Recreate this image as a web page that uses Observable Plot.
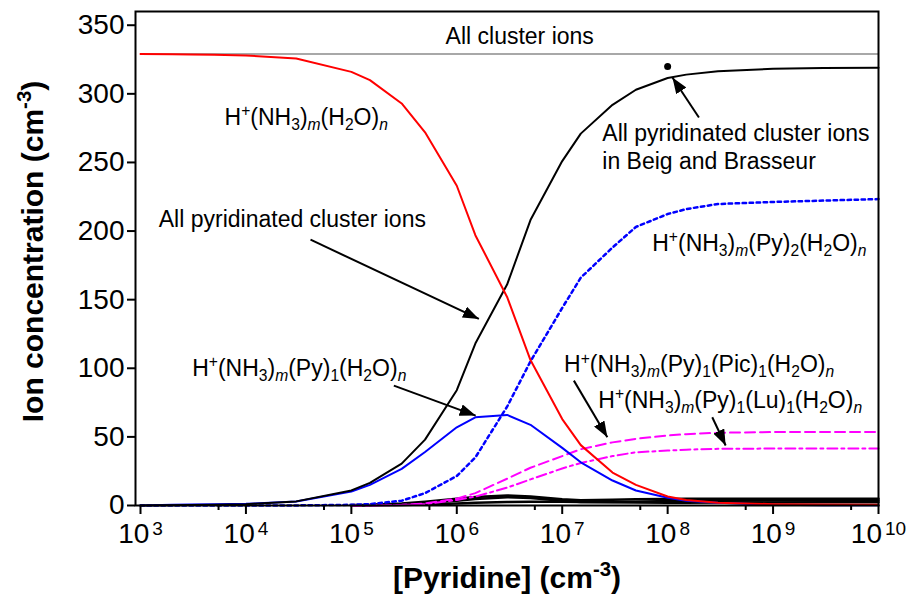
<!DOCTYPE html>
<html><head><meta charset="utf-8">
<script src="https://cdn.jsdelivr.net/npm/d3@7"></script>
<script src="https://cdn.jsdelivr.net/npm/@observablehq/plot@0.6"></script>
<style>html,body{margin:0;padding:0;background:#fff;} #chart{width:916px;height:602px;}</style>
</head><body><div id="chart"></div>
<script>
// ---- data ----
const pyridine = [1e3, 2e3, 3e3, 5e3, 1e4, 3e4, 1e5, 1.5e5, 3e5, 5e5, 1e6, 1.5e6, 3e6, 5e6, 1e7, 1.5e7, 3e7, 5e7, 1e8, 1.5e8, 3e8, 1e9, 3e9, 1e10];
const waterClusters  = [329, 328.8, 328.6, 328.4, 328, 325.7, 316, 310, 293, 272, 233, 197, 152, 106, 63, 44, 24, 15, 6.6, 4, 2, 1, 0.8, 0.5];
const allPyridinated = [0, 0.2, 0.3, 0.6, 1, 3, 11, 16.5, 30.5, 48, 84, 118, 161, 208, 251, 271, 292, 303, 311.5, 314, 316.5, 318.3, 318.8, 319];
const py1   = [0, 0.5, 0.7, 1, 1.2, 2.9, 10.2, 15, 26.7, 39, 57, 64.3, 66, 58.8, 42, 31.5, 18.2, 10.9, 5.6, 3.5, 2, 0.5, 0.2, 0.1];
const py2   = [0, 0, 0, 0, 0, 0.05, 0.5, 1, 3.5, 9, 21.5, 35, 72, 105, 144, 166, 188, 203, 212.4, 216, 219.7, 221.2, 222.2, 223.3];
const py1pic = [null, null, null, null, null, null, 0, 0.1, 0.5, 1.5, 5, 9, 19.5, 27.5, 36, 41, 46, 48.6, 51, 52, 53, 53.5, 53.5, 53.5];
const py1lu  = [null, null, null, null, null, null, 0, 0.05, 0.3, 1, 4, 6.5, 13, 19, 27, 31, 36, 38.8, 40, 40.7, 41.3, 41.5, 41.5, 41.5];
const minorA = [null, null, null, null, null, null, 0.3, 0.5, 1.5, 2.8, 5, 6.2, 7.3, 6.5, 4.5, 3.8, 4.2, 4.5, 4.8, 4.9, 5, 5, 5, 5];
const minorB = [null, null, null, null, null, null, 0.2, 0.3, 1, 2, 3.5, 4.8, 6, 5.5, 3.5, 2.6, 2.5, 2.8, 3.2, 3.4, 3.5, 3.6, 3.7, 3.7];
const minorC = [null, null, null, null, null, null, 0, 0.1, 0.3, 0.7, 1.5, 2, 2.5, 2.7, 2.8, 2.6, 2.3, 2.1, 2, 2, 2.1, 2.2, 2.3, 2.3];
const allClusterIons = 329;
const beigX = [1e8];
const beigY = [320];

// annotations
const labelText = [
  "All cluster ions",
  "H^{+}(NH_{3})_{m}(H_{2}O)_{n}",
  "All pyridinated cluster ions",
  "All pyridinated cluster ions\nin Beig and Brasseur",
  "H^{+}(NH_{3})_{m}(Py)_{2}(H_{2}O)_{n}",
  "H^{+}(NH_{3})_{m}(Py)_{1}(H_{2}O)_{n}",
  "H^{+}(NH_{3})_{m}(Py)_{1}(Pic)_{1}(H_{2}O)_{n}",
  "H^{+}(NH_{3})_{m}(Py)_{1}(Lu)_{1}(H_{2}O)_{n}"
];
const labelX = [7.83e5, 6.27e3, 1.49e3, 2.4e7, 7.14e7, 3.09e3, 1.04e7, 2.2e7];
const labelY = [336.2, 277.4, 202.6, 245.2, 185.7, 94.7, 97.1, 71.1];
const arrowX1 = [4.1e4, 2.53e5, 1.98e8, 1.29e7, 2.65e8];
const arrowY1 = [193.7, 87.4, 282.7, 91, 64.3];
const arrowX2 = [1.62e6, 1.51e6, 1.11e8, 2.68e7, 3.55e8];
const arrowY2 = [136, 65.5, 311.9, 49.7, 43.7];

const yTicks = [0, 50, 100, 150, 200, 250, 300, 350];
const xMajor = [1e3, 1e4, 1e5, 1e6, 1e7, 1e8, 1e9, 1e10];
const xMinor = [5.5e3, 5.5e4, 5.5e5, 5.5e6, 5.5e7, 5.5e8, 5.5e9];
const xTitle = "[Pyridine] (cm^{-3})";
const yTitle = "Ion concentration (cm^{-3})";

// ---- build tables ----
const toSeries = vals => pyridine.map((x, i) => ({x, y: vals[i]})).filter(d => d.y != null);
const labels = labelText.map((t, i) => ({t, x: labelX[i], y: labelY[i]}));
const arrows = arrowX1.map((x1, i) => ({x1, y1: arrowY1[i], x2: arrowX2[i], y2: arrowY2[i]}));
const beig = beigX.map((x, i) => ({x, y: beigY[i]}));

const chart = Plot.plot({
  width: 916, height: 602,
  marginLeft: 135, marginRight: 38, marginTop: 11, marginBottom: 97,
  style: {fontFamily: "'Liberation Sans', Arial, sans-serif", fontSize: "23px", background: "white", color: "black"},
  x: {type: "log", domain: [Math.pow(10, 3 - 5 / 105.4), 1e10], label: null},
  y: {domain: [0, 360], label: null},
  marks: [
    Plot.ruleY([allClusterIons], {x1: 1e3, x2: 1e10, stroke: "#a8a8a8", strokeWidth: 2}),
    Plot.line(toSeries(minorC), {x: "x", y: "y", stroke: "black", strokeWidth: 2.5}),
    Plot.line(toSeries(minorB), {x: "x", y: "y", stroke: "black", strokeWidth: 2.5}),
    Plot.line(toSeries(minorA), {x: "x", y: "y", stroke: "black", strokeWidth: 2.5}),
    Plot.line(toSeries(py1pic), {x: "x", y: "y", stroke: "#ff00ff", strokeWidth: 2, strokeDasharray: "10,5"}),
    Plot.line(toSeries(py1lu), {x: "x", y: "y", stroke: "#ff00ff", strokeWidth: 2, strokeDasharray: "10,4,3,4"}),
    Plot.line(toSeries(py2), {x: "x", y: "y", stroke: "#0000ff", strokeWidth: 2.5, strokeDasharray: "3.5,3.5"}),
    Plot.line(toSeries(py1), {x: "x", y: "y", stroke: "#0000ff", strokeWidth: 2}),
    Plot.line(toSeries(allPyridinated), {x: "x", y: "y", stroke: "black", strokeWidth: 2}),
    Plot.line(toSeries(waterClusters), {x: "x", y: "y", stroke: "#ff0000", strokeWidth: 2}),
    Plot.dot(beig, {x: "x", y: "y", r: 3.5, fill: "black", stroke: "none"}),
    Plot.link(arrows, {x1: "x1", y1: "y1", x2: "x2", y2: "y2", stroke: "black", strokeWidth: 2}),
    Plot.text(labels, {x: "x", y: "y", text: "t", textAnchor: "start", lineAnchor: "bottom", fontSize: 23, lineHeight: 1.23, fill: "black"}),
    Plot.frame({stroke: "black", strokeWidth: 2}),
    Plot.axisY(yTicks, {tickSize: 8, tickPadding: 3, fontSize: 28, label: null, strokeWidth: 2}),
    Plot.axisX(xMajor, {tickSize: 9, tickPadding: 9, fontSize: 28, label: null, strokeWidth: 2,
      tickFormat: d => "10^{" + Math.round(Math.log10(d)) + "}"}),
    Plot.axisX(xMinor, {tickSize: 5, label: null, strokeWidth: 2, tickFormat: () => ""}),
    Plot.text([yTitle], {text: d => d, frameAnchor: "left", rotate: -90, dx: -93, dy: -7, fontSize: 30, fontWeight: "bold", lineAnchor: "bottom", textAnchor: "middle"}),
    Plot.text([xTitle], {text: d => d, frameAnchor: "bottom", dy: 82, fontSize: 30, fontWeight: "bold", lineAnchor: "bottom", textAnchor: "middle"})
  ]
});

document.getElementById("chart").append(chart);

// ---- rich text: ^{sup} and _{sub} into tspans ----
function rich(el, rise, dropSub, supDx) {
  if (el.querySelector("tspan")) return;
  const s = el.textContent;
  if (!/[\^_]\{/.test(s)) return;
  const fs = parseFloat(getComputedStyle(el).fontSize);
  el.textContent = "";
  const re = /([\^_])\{([^}]*)\}|([^\^_]+)/g;
  let cur = 0, m;
  while ((m = re.exec(s))) {
    const t = document.createElementNS("http://www.w3.org/2000/svg", "tspan");
    let target = 0, small = false, txt = m[3];
    if (m[1] === "^") { target = -rise * fs; small = true; txt = m[2]; if (supDx) t.setAttribute("dx", supDx); }
    else if (m[1] === "_") { target = dropSub * fs; small = true; txt = m[2]; if (/^[a-z]$/.test(txt)) t.setAttribute("font-style", "italic"); }
    if (target !== cur) t.setAttribute("dy", (target - cur).toFixed(2));
    cur = target;
    if (small) t.setAttribute("font-size", (fs * 0.68).toFixed(2));
    t.textContent = txt;
    el.appendChild(t);
  }
}
chart.querySelectorAll("text").forEach(el => {
  const tick = el.closest('[aria-label="x-axis tick label"]');
  if (tick) rich(el, 0.3, 0.22, 3);
  else rich(el, 0.38, 0.22, 0);
});

// ---- filled arrowheads ----
const svgSel = d3.select(chart);
const defs = svgSel.insert("defs", ":first-child");
defs.append("marker").attr("id", "ahead").attr("viewBox", "-16 -6 16 12")
  .attr("refX", 0).attr("refY", 0).attr("markerWidth", 16).attr("markerHeight", 12)
  .attr("markerUnits", "userSpaceOnUse").attr("orient", "auto")
  .append("path").attr("d", "M0,0L-16,-6L-16,6Z").attr("fill", "black").attr("stroke", "none");
svgSel.selectAll('g[aria-label="link"] path').attr("marker-end", "url(#ahead)");
</script>
</body></html>
